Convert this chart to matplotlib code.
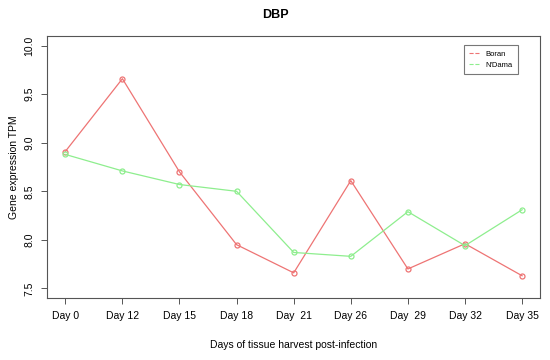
import numpy as np
import matplotlib.pyplot as plt

plt.rcParams['font.family'] = ['Liberation Sans', 'DejaVu Sans']

# x tick labels (R-style plot, one point per harvest day)
days = ['Day 0', 'Day 12', 'Day 15', 'Day 18', 'Day  21', 'Day 26', 'Day  29', 'Day 32', 'Day 35']
boran = [8.91, 9.66, 8.70, 7.95, 7.66, 8.61, 7.70, 7.96, 7.63]
ndama = [8.88, 8.71, 8.57, 8.50, 7.87, 7.83, 8.29, 7.94, 8.31]

red = '#EE7474'
green = '#8EEE8E'

fig = plt.figure(figsize=(5.5, 3.6), dpi=100)
ax = fig.add_axes([0.0855, 0.172, 0.897, 0.728])

x = np.arange(1, len(days) + 1)
ax.plot(x, boran, color=red, lw=0.9, marker='o', ms=3.6, mfc='none', mec=red, mew=0.9, label='Boran')
ax.plot(x, ndama, color=green, lw=0.9, marker='o', ms=3.6, mfc='none', mec=green, mew=0.9, label="N'Dama")

ax.set_xlim(0.68, 9.32)
ax.set_ylim(7.4, 10.1)
ax.set_xticks(x)
ax.set_xticklabels(days, fontsize=7.5)
ax.set_yticks([7.5, 8.0, 8.5, 9.0, 9.5, 10.0])
ax.set_yticklabels(['7.5', '8.0', '8.5', '9.0', '9.5', '10.0'], fontsize=7.5, rotation=90, va='center')
ax.tick_params(length=4, width=0.7, color='#555555', pad=5)
for s in ax.spines.values():
    s.set_color('#555555')
    s.set_linewidth(0.8)

ax.set_xlabel('Days of tissue harvest post-infection', fontsize=7.5, labelpad=14)
ax.set_ylabel('Gene expression TPM', fontsize=7.5, labelpad=4)
fig.suptitle('DBP', fontsize=9, fontweight='bold', y=0.975)

# legend with dashed keys, like R's lty=2
handles = [plt.Line2D([], [], color=red, ls='--', lw=0.8),
           plt.Line2D([], [], color=green, ls='--', lw=0.8)]
leg = ax.legend(handles, ['Boran', "N'Dama"], loc='upper right', bbox_to_anchor=(0.955, 0.966),
                fontsize=5.5, frameon=True, fancybox=False, handlelength=1.5, borderpad=0.7,
                labelspacing=0.5, handletextpad=0.7, borderaxespad=0)
leg.get_frame().set_edgecolor('#555555')
leg.get_frame().set_linewidth(0.8)

plt.savefig('out.png', dpi=100)
